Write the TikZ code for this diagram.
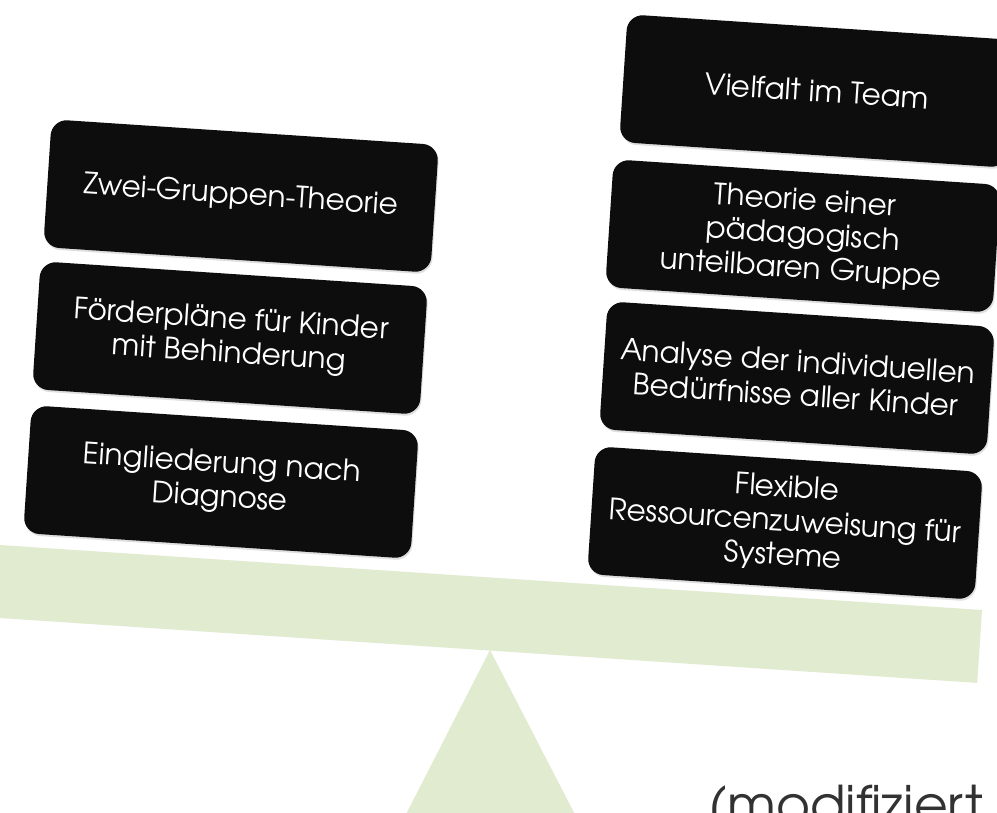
\documentclass[tikz,border=0pt]{standalone}
\usepackage{fontspec}
\setmainfont{texgyreadventor}[Extension=.otf, UprightFont=*-regular, BoldFont=*-bold]
\usetikzlibrary{shadows}
\definecolor{beamgreen}{RGB}{225,235,208}
\definecolor{boxfill}{RGB}{13,13,13}
\definecolor{captgray}{RGB}{50,50,50}
\begin{document}
\begin{tikzpicture}[x=1pt,y=-1pt,
  stackbox/.style={rectangle, rounded corners=16pt, fill=boxfill, text=white,
    minimum width=388pt, minimum height=128pt, align=center, rotate=-3.8,
    font=\fontsize{29.5}{34}\selectfont, inner sep=0pt,
    drop shadow={opacity=0.25, shadow xshift=1pt, shadow yshift=-2pt}},
  shape green/.style={fill=beamgreen}]
\useasboundingbox (0,0) rectangle (997,813);
\clip (0,0) rectangle (997,813);
\fill[white] (0,0) rectangle (997,813);
% beam and fulcrum
\fill[shape green] (-20,543.7) -- (982,610) -- (977.2,682.9) -- (-20,616.7) -- cycle;
\fill[shape green] (490,650) -- (398,830) -- (583,830) -- cycle;
% left stack
\node[stackbox] (l1) at (241,196) {Zwei-Gruppen-Theorie};
\node[stackbox] (l2) at (230,338) {Förderpläne für Kinder\\mit Behinderung};
\node[stackbox] (l3) at (221,482) {Eingliederung nach\\Diagnose};
% right stack
\node[stackbox] (r1) at (817,91) {Vielfalt im Team};
\node[stackbox] (r2) at (803,236) {Theorie einer\\pädagogisch\\unteilbaren Gruppe};
\node[stackbox] (r3) at (797,378) {Analyse der individuellen\\Bedürfnisse aller Kinder};
\node[stackbox] (r4) at (785,523) {Flexible\\Ressourcenzuweisung für\\Systeme};
% caption
\node[anchor=base west, text=captgray, font=\fontsize{52}{56}\selectfont, inner sep=0pt] (cap) at (708,823) {(modifiziert};
\end{tikzpicture}
\end{document}
